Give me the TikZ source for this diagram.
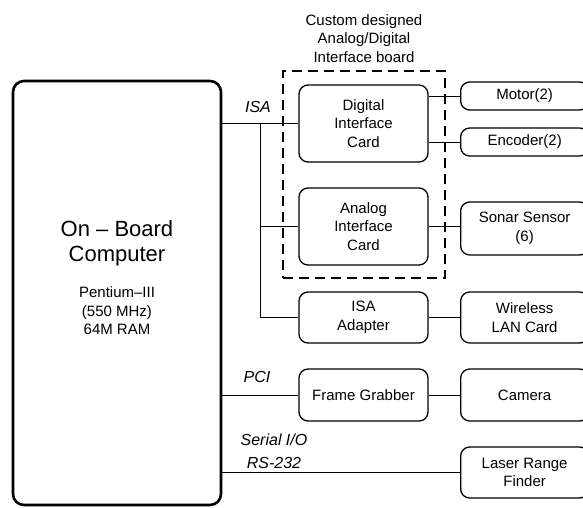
\documentclass[tikz,border=0pt]{standalone}
\usepackage{fontspec}
\setmainfont{Liberation Sans}
\usetikzlibrary{positioning}

\tikzset{
  txt/.style={font=\fontsize{15}{18.5}\selectfont, align=center, inner sep=0pt},
  card/.style={txt, draw, line width=1.3pt, rounded corners=9pt, minimum width=129pt, minimum height=51pt},
  dev/.style={card, minimum width=128pt, anchor=west},
  bus/.style={line width=0.8pt},
  buslabel/.style={font=\fontsize{16}{23}\selectfont\itshape, align=center, inner sep=0pt},
}

\begin{document}
\begin{tikzpicture}[x=1pt,y=-1pt]
\useasboundingbox (0,0) rectangle (583,507);

% main computer
\node[draw, line width=2.6pt, rounded corners=11pt, minimum width=208pt, minimum height=424pt, inner sep=0pt] (cpu) at (117,293) {};
\node[font=\fontsize{22}{25}\selectfont, align=center, inner sep=0pt] (cpuname) at (117,243) {On -- Board\\Computer};
\node[txt] (cpuspec) at (117,311) {Pentium--III\\(550 MHz)\\64M RAM};

% interface board
\node[draw, line width=2.6pt, dash pattern=on 10pt off 6pt, minimum width=162pt, minimum height=207pt, inner sep=0pt] (board) at (364,174.5) {};
\node[txt, above=7pt of board] (boardname) {Custom designed\\Analog/Digital\\Interface board};

\node[card, minimum height=77pt] (dig) at (363.5,123.5) {Digital\\Interface\\Card};
\node[card, minimum height=77pt] (ana) at (363.5,226.5) {Analog\\Interface\\Card};
\node[card] (isaad) at (363.5,317.5) {ISA\\Adapter};
\node[card, minimum height=52pt] (grab) at (363.5,395) {Frame Grabber};

% devices
\node[dev, minimum height=28pt] (motor) at (460,96) {Motor(2)};
\node[dev, minimum height=28pt] (enc) at (460,142) {Encoder(2)};
\node[dev, minimum height=53pt] (sonar) at (460,228.5) {Sonar Sensor\\(6)};
\node[dev] (wlan) at (460,317.5) {Wireless\\LAN Card};
\node[dev, minimum height=52pt] (cam) at (460,395) {Camera};
\node[dev] (laser) at (460,472.5) {Laser Range\\Finder};

% buses
\coordinate (isatap) at (260,123.5);
\draw[bus] (cpu.east |- dig.west) -- (dig.west);
\draw[bus] (isatap) |- (ana.west);
\draw[bus] (isatap) |- (isaad.west);
\draw[bus] (cpu.east |- grab.west) -- (grab.west);
\draw[bus] (cpu.east |- laser.west) -- (laser.west);

\draw[bus] (dig.east |- motor.west) -- (motor.west);
\draw[bus] (dig.east |- enc.west) -- (enc.west);
\draw[bus] (ana.east) -- (ana.east -| sonar.west);
\draw[bus] (isaad.east) -- (wlan.west);
\draw[bus] (grab.east) -- (cam.west);

\node[buslabel] (isalbl) at (258,107) {ISA};
\node[buslabel] (pcilbl) at (257,377) {PCI};
\node[buslabel] (serlbl) at (274,451) {Serial I/O\\RS-232};
\end{tikzpicture}
\end{document}
